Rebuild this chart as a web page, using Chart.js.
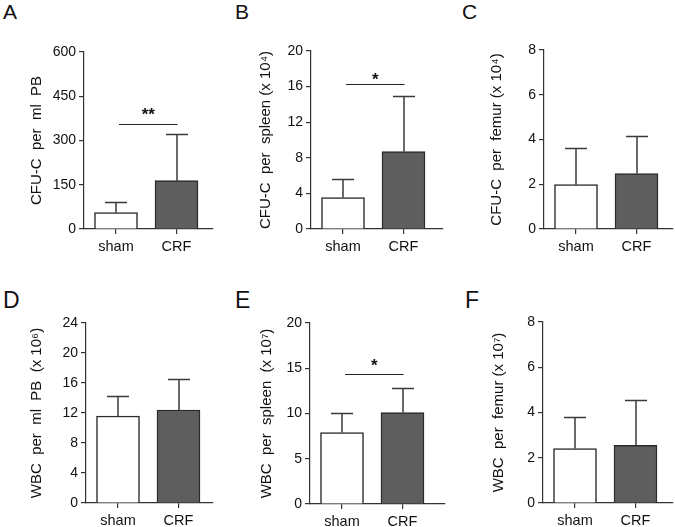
<!DOCTYPE html>
<html>
<head>
<meta charset="utf-8">
<script src="https://cdn.jsdelivr.net/npm/chart.js@4.4.1/dist/chart.umd.min.js"></script>
<style>
body { margin: 0; background: #fff; }
#fig { position: relative; width: 675px; height: 527px; overflow: hidden; font-family: 'Liberation Sans', Arial, sans-serif; }
#fig canvas { position: absolute; }
.lbl { position: absolute; line-height: 1; color: #111; }
</style>
</head>
<body>
<div id="fig"></div>
<script>
// data
const groups = ['sham', 'CRF'];
const letters = ['A', 'B', 'C', 'D', 'E', 'F'];
const yTitles = [
    'CFU-C  per  ml  PB',
    'CFU-C  per  spleen (x 10\u2074)',
    'CFU-C  per  femur (x 10\u2074)',
    'WBC  per  ml  PB  (x 10\u2076)',
    'WBC  per  spleen  (x 10\u2077)',
    'WBC  per  femur (x 10\u2077)'
];
const meanA = [55.4, 163.8], sdA = [36, 157];
const meanB = [3.53, 8.71],  sdB = [2.06, 6.22];
const meanC = [1.98, 2.48],  sdC = [1.63, 1.67];
const meanD = [11.6, 12.4],  sdD = [2.7, 4.1];
const meanE = [7.9, 10.1],   sdE = [2.2, 2.7];
const meanF = [2.41, 2.55],  sdF = [1.41, 2.0];
const means = [meanA, meanB, meanC, meanD, meanE, meanF];
const sds = [sdA, sdB, sdC, sdD, sdE, sdF];
const yMax = [600, 20, 8, 24, 20, 8];
const yStep = [150, 4, 2, 4, 5, 2];
const sigLevel = [357, 16.3, null, null, 14.4, null];
const sigText = ['**', '*', '', '', '*', ''];

// panel geometry (page pixels)
const panels = [
    { x: 0,   y: 0,   h: 260, L: 84,  T: 52,  R: 213, B: 229, tx: 36.5, lx: 3,   ly: 1,   fs: 21, lift: 12.5 },
    { x: 225, y: 0,   h: 260, L: 311, T: 51,  R: 443, B: 229, tx: 40.8, lx: 235, ly: 1,   fs: 21, lift: 6.7 },
    { x: 450, y: 0,   h: 260, L: 544, T: 50,  R: 673, B: 229, tx: 46.5, lx: 462, ly: 1,   fs: 21, lift: 10 },
    { x: 0,   y: 260, h: 267, L: 86,  T: 323, R: 213, B: 503, tx: 37,   lx: 3,   ly: 289, fs: 23, lift: 10 },
    { x: 225, y: 260, h: 267, L: 310, T: 323, R: 445, B: 504, tx: 41.5, lx: 235, ly: 289, fs: 23, lift: 10.8 },
    { x: 450, y: 260, h: 267, L: 543, T: 322, R: 673, B: 503, tx: 49,   lx: 465, ly: 289, fs: 23, lift: 10 }
];

const FONT = "'Liberation Sans', Arial, sans-serif";
const UNIT = 60.5;     // pixels between the two group centres
const FIRST = 32;      // first group centre from the y axis

function errorBars(sd, level, text, lift) {
    return {
        id: 'errbars',
        afterDatasetsDraw(chart) {
            const ctx = chart.ctx;
            const ys = chart.scales.y, xs = chart.scales.x;
            const ds = chart.data.datasets[0].data;
            ctx.save();
            ctx.strokeStyle = '#3a3a3a';
            ctx.lineWidth = 1.5;
            chart.getDatasetMeta(0).data.forEach((bar, i) => {
                const v = ds[i].y;
                const x = Math.round(bar.x);
                const y0 = ys.getPixelForValue(v);
                const y1 = Math.round(ys.getPixelForValue(v + sd[i])) + 0.5;
                ctx.beginPath();
                ctx.moveTo(x, y0);
                ctx.lineTo(x, y1);
                ctx.moveTo(x - 11, y1);
                ctx.lineTo(x + 11, y1);
                ctx.stroke();
            });
            if (level !== null) {
                const y = Math.round(ys.getPixelForValue(level)) + 0.5;
                const xa = xs.getPixelForValue(0) + 3;
                const xb = xs.getPixelForValue(1) + 1;
                ctx.lineWidth = 1.2;
                ctx.strokeStyle = '#222';
                ctx.beginPath();
                ctx.moveTo(xa, y);
                ctx.lineTo(xb, y);
                ctx.stroke();
                ctx.fillStyle = '#111';
                ctx.font = 'bold 17px ' + FONT;
                ctx.textAlign = 'center';
                ctx.textBaseline = 'middle';
                ctx.fillText(text, (xa + xb) / 2, y - lift + 3);
            }
            ctx.restore();
        }
    };
}

const fig = document.getElementById('fig');

panels.forEach((p, k) => {
    const lbl = document.createElement('div');
    lbl.className = 'lbl';
    lbl.textContent = letters[k];
    lbl.style.left = p.lx + 'px';
    lbl.style.top = p.ly + 'px';
    lbl.style.fontSize = p.fs + 'px';
    fig.appendChild(lbl);

    const cv = document.createElement('canvas');
    cv.width = 225;
    cv.height = p.h;
    cv.style.left = p.x + 'px';
    cv.style.top = p.y + 'px';
    fig.appendChild(cv);

    const xMin = -FIRST / UNIT;
    const xMax = xMin + (p.R - p.L) / UNIT;

    new Chart(cv, {
        type: 'bar',
        data: {
            datasets: [{
                data: means[k].map((m, i) => ({ x: i, y: m })),
                backgroundColor: ['#ffffff', '#5e5e5e'],
                borderColor: '#2a2a2a',
                borderWidth: 1.5,
                barThickness: 43
            }]
        },
        options: {
            responsive: false,
            animation: false,
            devicePixelRatio: 1,
            layout: { padding: { left: 0, top: p.T - p.y, right: p.x + 225 - p.R, bottom: 0 } },
            plugins: { legend: { display: false }, tooltip: { enabled: false } },
            scales: {
                x: {
                    type: 'linear',
                    bounds: 'data',
                    offset: false,
                    min: xMin,
                    max: xMax,
                    afterBuildTicks: (s) => { s.ticks = groups.map((g, i) => ({ value: i })); },
                    afterFit: (s) => { s.height = p.y + p.h - p.B; },
                    border: { display: true, color: '#333', width: 1.2 },
                    grid: { display: true, offset: false, drawOnChartArea: false, drawTicks: true, tickLength: 5, color: '#333', lineWidth: 1.2 },
                    ticks: {
                        autoSkip: false,
                        maxRotation: 0,
                        padding: 4,
                        color: '#111',
                        font: { family: FONT, size: 14.5 },
                        callback: (v) => groups[Math.round(v)]
                    }
                },
                y: {
                    min: 0,
                    max: yMax[k],
                    afterFit: (s) => { s.width = p.L - p.x; },
                    border: { display: true, color: '#333', width: 1.2 },
                    grid: { display: true, drawOnChartArea: false, drawTicks: true, tickLength: 5, color: '#333', lineWidth: 1.2 },
                    ticks: {
                        stepSize: yStep[k],
                        padding: 3,
                        color: '#111',
                        font: { family: FONT, size: 14 }
                    },
                    title: {
                        display: true,
                        text: yTitles[k],
                        color: '#111',
                        font: { family: FONT, size: 15 },
                        padding: { top: p.tx - 9, bottom: 0 }
                    }
                }
            }
        },
        plugins: [errorBars(sds[k], sigLevel[k], sigText[k], p.lift)]
    });
});
</script>
</body>
</html>
